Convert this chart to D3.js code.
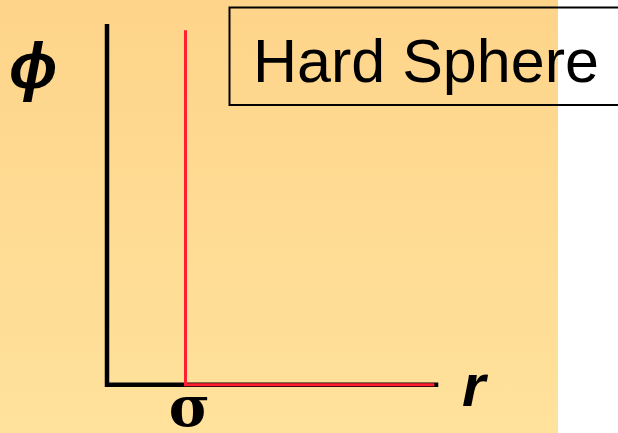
<!DOCTYPE html>
<html>
<head>
<meta charset="utf-8">
<script src="https://cdn.jsdelivr.net/npm/d3@7"></script>
<style>
  html, body { margin: 0; padding: 0; background: #fff; }
  svg { display: block; }
</style>
</head>
<body>
<div id="chart"></div>
<script>
// hard sphere potential: infinite wall at sigma, zero beyond
const rValues = [1, 1, 4.17];
const phiValues = [0.983, 0, 0];
const axisR = [0, 0, 4.22];
const axisPhi = [1, 0, 0];
const title = "Hard Sphere";

const width = 618;
const height = 433;

const svg = d3.select("#chart")
    .append("svg")
    .attr("width", width)
    .attr("height", height);

const defs = svg.append("defs");
const grad = defs.append("linearGradient")
    .attr("id", "bg")
    .attr("x1", 0).attr("y1", 0)
    .attr("x2", 0).attr("y2", 1);
grad.append("stop").attr("offset", "0%").attr("stop-color", "#fed48a");
grad.append("stop").attr("offset", "100%").attr("stop-color", "#ffe29c");

svg.append("rect")
    .attr("x", 0).attr("y", 0)
    .attr("width", 558).attr("height", height)
    .attr("fill", "url(#bg)");

var x = d3.scaleLinear()
    .domain([0, 4.2])
    .range([107, 436.7]);
var y = d3.scaleLinear()
    .domain([0, 1])
    .range([384.7, 24]);

const line = d3.line()
    .x(d => x(d[0]))
    .y(d => y(d[1]));

// axes
svg.append("path")
    .datum(d3.zip(axisR, axisPhi))
    .attr("d", line)
    .attr("fill", "none")
    .attr("stroke", "#000")
    .attr("stroke-width", 4.5)
    .attr("stroke-linejoin", "miter");

// potential
svg.append("path")
    .datum(d3.zip(rValues, phiValues))
    .attr("d", line)
    .attr("fill", "none")
    .attr("stroke", "#ff1f30")
    .attr("stroke-width", 3);

// title box
svg.append("rect")
    .attr("x", 229.5).attr("y", 7.5)
    .attr("width", 420).attr("height", 97.5)
    .attr("fill", "none")
    .attr("stroke", "#000")
    .attr("stroke-width", 2);

svg.append("text")
    .attr("x", 253)
    .attr("y", 81.5)
    .attr("font-family", "Liberation Sans, Arial, sans-serif")
    .attr("font-size", 61)
    .text(title);

// axis labels
svg.append("text")
    .attr("x", 9)
    .attr("y", 88)
    .attr("font-family", "Liberation Sans, Arial, sans-serif")
    .attr("font-weight", "bold")
    .attr("font-style", "italic")
    .attr("font-size", 64)
    .text("\u03D5");

svg.append("text")
    .attr("x", 462)
    .attr("y", 406)
    .attr("font-family", "Liberation Sans, Arial, sans-serif")
    .attr("font-weight", "bold")
    .attr("font-style", "italic")
    .attr("font-size", 60)
    .text("r");

svg.append("text")
    .attr("x", x(1) + 4)
    .attr("y", 426)
    .attr("text-anchor", "middle")
    .attr("font-family", "DejaVu Serif, Liberation Serif, serif")
    .attr("font-weight", "bold")
    .attr("font-size", 56)
    .text("\u03C3");
</script>
</body>
</html>
